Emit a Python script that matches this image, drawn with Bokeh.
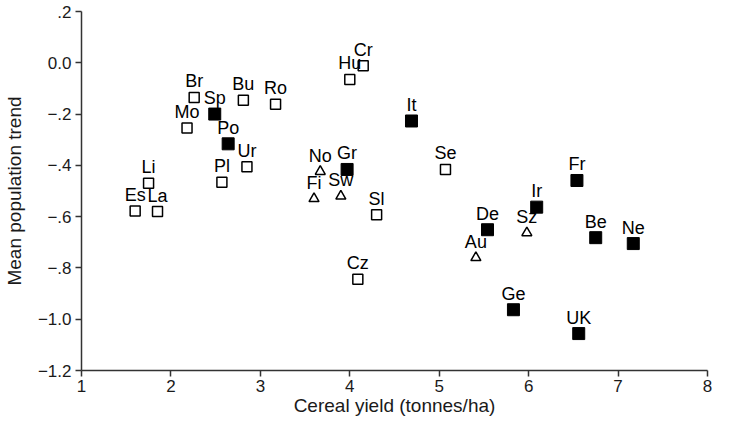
from bokeh.plotting import figure
from bokeh.models import Range1d, FixedTicker, ColumnDataSource
from bokeh.core.properties import value
from bokeh.embed import file_html
from bokeh.resources import INLINE

# Open squares
open_names = ["Es", "La", "Li", "Mo", "Br", "Pl", "Ur", "Bu", "Ro", "Hu", "Cr", "Sl", "Cz", "Se"]
open_x = [1.60, 1.85, 1.75, 2.18, 2.26, 2.57, 2.85, 2.81, 3.17, 4.00, 4.15, 4.30, 4.09, 5.07]
open_y = [-0.578, -0.580, -0.470, -0.254, -0.135, -0.466, -0.405, -0.146, -0.162, -0.065, -0.012, -0.593, -0.844, -0.416]

# Filled squares
filled_names = ["Sp", "Po", "It", "Gr", "De", "Ir", "Fr", "Be", "Ne", "Ge", "UK"]
filled_x = [2.49, 2.64, 4.69, 3.97, 5.54, 6.09, 6.54, 6.75, 7.17, 5.83, 6.56]
filled_y = [-0.200, -0.316, -0.227, -0.416, -0.651, -0.563, -0.459, -0.682, -0.705, -0.963, -1.056]

# Open triangles
tri_names = ["No", "Fi", "Sw", "Au", "Sz"]
tri_x = [3.67, 3.60, 3.90, 5.41, 5.98]
tri_y = [-0.424, -0.530, -0.520, -0.760, -0.663]

x_ticks = [1, 2, 3, 4, 5, 6, 7, 8]
y_ticks = [-1.2, -1.0, -0.8, -0.6, -0.4, -0.2, 0.0, 0.2]
y_tick_labels = ["\u22121.2", "\u22121.0", "\u2212.8", "\u2212.6", "\u2212.4", "\u2212.2", "0.0", ".2"]

x_title = "Cereal yield (tonnes/ha)"
y_title = "Mean population trend"

FONT = "Liberation Sans"

p = figure(width=713, height=418, output_backend="svg", toolbar_location=None,
           x_range=Range1d(1, 8), y_range=Range1d(-1.2, 0.2),
           min_border_left=81, min_border_right=6, min_border_top=11, min_border_bottom=40)
p.outline_line_color = None
p.grid.visible = False
p.background_fill_color = "white"

for ax in (p.xaxis[0], p.yaxis[0]):
    ax.axis_line_color = "#333333"
    ax.axis_line_width = 1.5
    ax.major_tick_line_color = "#333333"
    ax.major_tick_line_width = 1.5
    ax.major_tick_out = 6
    ax.major_tick_in = 0
    ax.minor_tick_line_color = None
    ax.major_label_text_font = FONT
    ax.major_label_text_font_size = "17px"
    ax.major_label_text_color = "#1a1a1a"
    ax.axis_label_text_font = FONT
    ax.axis_label_text_font_size = "19px"
    ax.axis_label_text_font_style = "normal"
    ax.axis_label_text_color = "#1a1a1a"

p.xaxis.ticker = FixedTicker(ticks=x_ticks)
p.yaxis.ticker = FixedTicker(ticks=y_ticks)
p.yaxis.major_label_overrides = {t: l for t, l in zip(y_ticks, y_tick_labels)}
p.xaxis.axis_label = x_title
p.yaxis.axis_label = y_title
p.xaxis.major_label_standoff = 3
p.yaxis.major_label_standoff = 4
p.xaxis.axis_label_standoff = 0
p.yaxis.axis_label_standoff = 10

src_open = ColumnDataSource(dict(x=open_x, y=open_y, name=open_names))
src_filled = ColumnDataSource(dict(x=filled_x, y=filled_y, name=filled_names))
src_tri = ColumnDataSource(dict(x=tri_x, y=tri_y, name=tri_names))

p.scatter("x", "y", source=src_open, marker="square", size=10,
          fill_color="white", line_color="black", line_width=1.5)
p.scatter("x", "y", source=src_filled, marker="square", size=12,
          fill_color="black", line_color="black", line_width=1)
p.scatter("x", "y", source=src_tri, marker="triangle", size=10,
          fill_color="white", line_color="black", line_width=1.5)

for src in (src_open, src_filled, src_tri):
    p.text("x", "y", text="name", source=src, text_align="center",
           text_baseline="alphabetic", y_offset=-16,
           text_font=value(FONT), text_font_size="18px", text_color="black")

open("out.html", "w").write(file_html(p, INLINE))
